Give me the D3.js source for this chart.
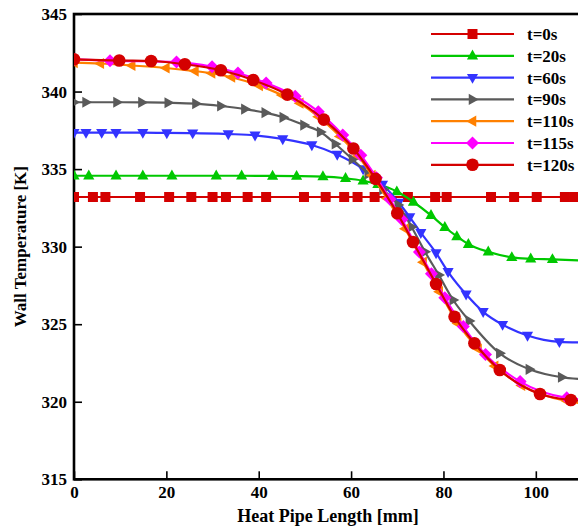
<!DOCTYPE html>
<html><head><meta charset="utf-8">
<script src="https://cdn.jsdelivr.net/npm/d3@7"></script>
<style>body{margin:0;background:#fff} svg{display:block}</style>
</head><body>
<script>
// ---------- data ----------
const xTicks = [0, 20, 40, 60, 80, 100];
const yTicks = [315, 320, 325, 330, 335, 340, 345];
const seriesLabels = ["t=0s", "t=20s", "t=60s", "t=90s", "t=110s", "t=115s", "t=120s"];

const x_t0 = [0, 4.1, 6.8, 14.3, 20.6, 25.4, 30.0, 32.9, 37.6, 41.6, 49.8, 54.5, 58.5, 61.4, 65.1, 72.3, 78.2, 80.7, 90.3, 95.3, 100.2, 106.3, 108.3, 110];
const T_t0 = [333.2, 333.2, 333.2, 333.2, 333.2, 333.2, 333.2, 333.2, 333.2, 333.2, 333.2, 333.2, 333.2, 333.2, 333.2, 333.2, 333.2, 333.2, 333.2, 333.2, 333.2, 333.2, 333.2, 333.2];

const x_t20 = [0, 3.2, 9.1, 14.9, 21.2, 30.8, 36.3, 43.0, 48.2, 53.9, 58.8, 62.6, 65.8, 69.9, 73.5, 77.3, 80.3, 82.9, 85.4, 89.7, 94.8, 98.9, 103.6, 110];
const T_t20 = [334.57, 334.57, 334.57, 334.57, 334.57, 334.57, 334.57, 334.56, 334.55, 334.52, 334.41, 334.25, 334.02, 333.55, 332.88, 332.02, 331.25, 330.66, 330.16, 329.67, 329.31, 329.22, 329.18, 329.1];

const x_t60 = [0, 2.6, 6.0, 9.1, 14.9, 20.1, 25.7, 33.4, 39.2, 45.2, 51.5, 57.0, 62.6, 66.8, 70.3, 72.7, 75.1, 78.4, 81.0, 84.9, 88.6, 92.8, 98.2, 105.1, 110];
const T_t60 = [337.35, 337.35, 337.35, 337.35, 337.35, 337.33, 337.32, 337.26, 337.18, 336.94, 336.55, 335.94, 335.01, 334.01, 332.85, 331.91, 330.9, 329.59, 328.38, 326.93, 325.8, 324.97, 324.27, 323.86, 323.82];

const x_t90 = [0, 2.6, 9.3, 14.7, 20.4, 26.4, 31.8, 37.0, 41.4, 45.3, 49.8, 53.4, 56.6, 60.3, 63.7, 66.9, 70.2, 73.1, 76.0, 79.0, 82.1, 85.6, 92.2, 98.6, 105.6, 110];
const T_t90 = [339.31, 339.31, 339.31, 339.3, 339.28, 339.22, 339.07, 338.87, 338.64, 338.34, 337.84, 337.39, 336.62, 335.63, 334.68, 333.68, 332.69, 331.27, 329.67, 328.17, 326.56, 325.21, 323.12, 322.09, 321.58, 321.45];

const x_t110 = [0, 5.7, 12.5, 19.9, 26.2, 29.8, 34.1, 40.1, 45.0, 48.9, 52.9, 57.6, 61.5, 64.5, 67.8, 71.7, 75.6, 79.1, 83.1, 87.5, 91.1, 96.9, 106.7, 110];
const T_t110 = [341.87, 341.81, 341.68, 341.52, 341.32, 341.18, 340.92, 340.38, 339.78, 339.25, 338.38, 337.1, 335.85, 334.6, 333.1, 331.15, 329.0, 327.1, 325.05, 323.4, 322.3, 321.05, 320.05, 319.9];

const x_t115 = [0, 7.8, 22.2, 29.9, 35.5, 41.6, 47.9, 52.9, 58.2, 62.1, 65.5, 68.4, 71.0, 74.8, 77.4, 80.3, 84.3, 89.1, 96.6, 106.7, 110];
const T_t115 = [342.07, 341.99, 341.9, 341.6, 341.2, 340.55, 339.7, 338.7, 337.2, 335.9, 334.45, 333.05, 331.75, 329.65, 328.25, 326.7, 324.85, 323.05, 321.3, 320.25, 320.15];

const x_t120 = [0, 9.8, 16.7, 24.0, 31.8, 38.8, 46.2, 54.1, 60.5, 65.3, 70.0, 73.4, 78.4, 82.4, 86.7, 92.2, 100.9, 107.6, 110];
const T_t120 = [342.08, 342.0, 341.97, 341.76, 341.37, 340.74, 339.8, 338.19, 336.33, 334.37, 332.15, 330.3, 327.59, 325.48, 323.77, 322.05, 320.5, 320.11, 320.05];

// ---------- styles ----------
const colors = ["#d40000", "#00c800", "#3333ff", "#5a5a5a", "#ff8000", "#ff00ff", "#d40000"];
const shapes = ["square", "triUp", "triDown", "triRight", "triLeft", "diamond", "circle"];
const xs = [x_t0, x_t20, x_t60, x_t90, x_t110, x_t115, x_t120];
const Ts = [T_t0, T_t20, T_t60, T_t90, T_t110, T_t115, T_t120];

const W = 578, H = 529;
const svg = d3.select("body").append("svg").attr("width", W).attr("height", H);
const x = d3.scaleLinear().domain([0, 110]).range([74, 582]);
const y = d3.scaleLinear().domain([315, 345]).range([479.3, 14]);
const font = "'Liberation Serif','Times New Roman',serif";

function markerPath(shape) {
  const t = 6.2;
  switch (shape) {
    case "square": return "M-5,-5H5V5H-5Z";
    case "circle": return "M6.3,0A6.3,6.3 0 1,1 -6.3,0A6.3,6.3 0 1,1 6.3,0Z";
    case "diamond": return "M0,-6.5L6.5,0L0,6.5L-6.5,0Z";
    case "triUp": return `M0,${-t}L${t*0.9},${t*0.6}L${-t*0.9},${t*0.6}Z`;
    case "triDown": return `M0,${t}L${t*0.9},${-t*0.6}L${-t*0.9},${-t*0.6}Z`;
    case "triRight": return `M${t},0L${-t*0.6},${t*0.9}L${-t*0.6},${-t*0.9}Z`;
    case "triLeft": return `M${-t},0L${t*0.6},${t*0.9}L${t*0.6},${-t*0.9}Z`;
  }
}

svg.append("clipPath").attr("id", "clip").append("rect")
  .attr("x", 74).attr("y", 14).attr("width", 508).attr("height", 465.3);

// ---------- axes ----------
const gx = svg.append("g").attr("transform", "translate(0,479.3)");
gx.call(d3.axisBottom(x).tickValues(d3.range(0, 111, 5)).tickSize(-5).tickFormat(""));
gx.call(d3.axisBottom(x).tickValues(xTicks).tickSize(-8).tickPadding(7).tickFormat(d3.format("d")));
gx.selectAll(".domain").remove();
gx.selectAll("line").attr("stroke", "#000").attr("stroke-width", 1.6);
gx.selectAll("text").attr("font-family", font).attr("font-weight", "bold").attr("font-size", 17).attr("fill", "#000");

const gy = svg.append("g").attr("transform", "translate(74,0)");
gy.call(d3.axisLeft(y).tickValues(d3.range(315, 345.5, 1)).tickSize(-5).tickFormat(""));
gy.call(d3.axisLeft(y).tickValues(yTicks).tickSize(-8).tickPadding(7).tickFormat(d3.format("d")));
gy.selectAll(".domain").remove();
gy.selectAll("line").attr("stroke", "#000").attr("stroke-width", 1.6);
gy.selectAll("text").attr("font-family", font).attr("font-weight", "bold").attr("font-size", 17).attr("fill", "#000");

// frame
svg.append("rect").attr("x", 74).attr("y", 14).attr("width", 508).attr("height", 465.3)
  .attr("fill", "none").attr("stroke", "#000").attr("stroke-width", 2.6);

// titles
svg.append("text").attr("x", 328).attr("y", 522).attr("text-anchor", "middle")
  .attr("font-family", font).attr("font-weight", "bold").attr("font-size", 18).text("Heat Pipe Length [mm]");
svg.append("text").attr("transform", "translate(26,246.6) rotate(-90)").attr("text-anchor", "middle")
  .attr("font-family", font).attr("font-weight", "bold").attr("font-size", 17).text("Wall Temperature [K]");

// ---------- series ----------
const plot = svg.append("g").attr("clip-path", "url(#clip)");
const line = d3.line().x(d => x(d[0])).y(d => y(d[1])).curve(d3.curveMonotoneX);
xs.forEach((xv, i) => {
  const pts = xv.map((v, j) => [v, Ts[i][j]]);
  const g = plot.append("g");
  g.append("path").attr("d", line(pts)).attr("fill", "none").attr("stroke", colors[i]).attr("stroke-width", 2.2);
  g.selectAll("path.m").data(pts.filter(p => p[0] < 109.5)).enter().append("path").attr("class", "m")
    .attr("d", markerPath(shapes[i])).attr("transform", p => `translate(${x(p[0])},${y(p[1])})`)
    .attr("fill", colors[i]);
});

// ---------- legend ----------
const lg = svg.append("g");
seriesLabels.forEach((lab, i) => {
  const cy = 34 + i * 21.8;
  lg.append("line").attr("x1", 431).attr("x2", 514).attr("y1", cy).attr("y2", cy)
    .attr("stroke", colors[i]).attr("stroke-width", 2.2);
  lg.append("path").attr("d", markerPath(shapes[i])).attr("transform", `translate(472.5,${cy})`).attr("fill", colors[i]);
  lg.append("text").attr("x", 527).attr("y", cy).attr("dy", "0.35em")
    .attr("font-family", font).attr("font-weight", "bold").attr("font-size", 17).text(lab);
});
</script>
</body></html>
